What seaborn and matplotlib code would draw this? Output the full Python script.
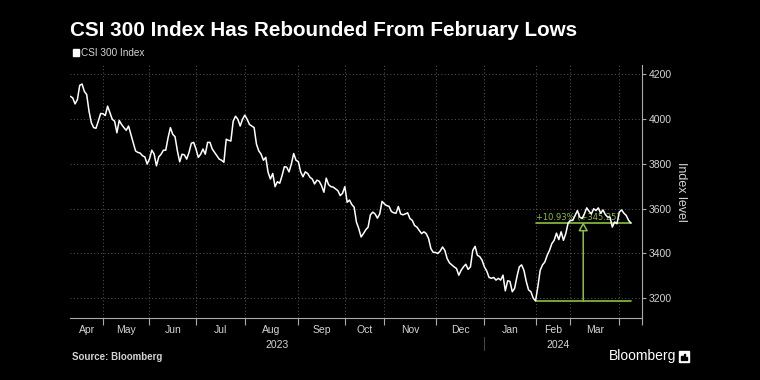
import numpy as np
import pandas as pd
import matplotlib
matplotlib.use("Agg")
import matplotlib.pyplot as plt
import matplotlib.transforms as mtransforms
from matplotlib.patches import Rectangle
import seaborn as sns

# ---------------- data ----------------
title = "CSI 300 Index Has Rebounded From February Lows"
series_name = "CSI 300 Index"
source = "Source: Bloomberg"
y_label = "Index level"
change_label = "+10.93% (+345.25)"
first_session = "2023-04-11"
exchange_holidays = [
    "2023-05-01", "2023-05-02", "2023-05-03", "2023-06-22", "2023-06-23",
    "2023-09-29", "2023-10-02", "2023-10-03", "2023-10-04", "2023-10-05",
    "2023-10-06", "2024-01-01", "2024-02-09", "2024-02-12", "2024-02-13",
    "2024-02-14", "2024-02-15", "2024-02-16", "2024-04-04", "2024-04-05",
]
close = [
    4102, 4095, 4068, 4087, 4151, 4157, 4124, 4110, 4036, 3984, 3962, 3959, 3991,
    4025, 4024, 4016, 4058, 4028, 3999, 3991, 3939, 3994, 3976, 3962, 3950, 3969,
    3932, 3896, 3858, 3851, 3848, 3836, 3831, 3799, 3822, 3861, 3844, 3791, 3831,
    3843, 3861, 3861, 3917, 3962, 3932, 3921, 3858, 3809, 3843, 3840, 3821, 3851,
    3892, 3896, 3866, 3829, 3843, 3866, 3843, 3896, 3896, 3866, 3851, 3836, 3821,
    3816, 3807, 3910, 3905, 3902, 3991, 4013, 3999, 3969, 3999, 4018, 3999, 3976,
    3969, 3962, 3888, 3858, 3843, 3816, 3829, 3762, 3732, 3757, 3698, 3720, 3713,
    3747, 3787, 3785, 3764, 3799, 3846, 3816, 3810, 3764, 3742, 3764, 3757, 3740,
    3732, 3710, 3727, 3722, 3702, 3673, 3736, 3707, 3698, 3696, 3688, 3680, 3658,
    3668, 3698,
    3628, 3638, 3618, 3606, 3539, 3510, 3473, 3488, 3505, 3517, 3572, 3584, 3576,
    3557, 3576, 3632, 3621, 3613, 3610, 3587, 3581, 3579, 3609, 3576, 3572, 3576,
    3581, 3555, 3547, 3524, 3517, 3502, 3488, 3496, 3488, 3466, 3421, 3404, 3404,
    3399, 3410,
    3428, 3413, 3376, 3357, 3348, 3339, 3332, 3302, 3324, 3339, 3351, 3328, 3339,
    3413, 3431, 3391, 3385, 3369, 3339, 3321, 3292, 3288, 3292, 3280, 3288, 3280,
    3302, 3232, 3277, 3274, 3228, 3243, 3295, 3339, 3348, 3324, 3274, 3236, 3228,
    3199,
    3187, 3251, 3324, 3348, 3361, 3391, 3413, 3443, 3458, 3490, 3461, 3496, 3458,
    3488, 3535, 3547, 3547, 3569, 3591, 3562, 3555, 3576, 3603, 3588, 3576, 3599,
    3591, 3603, 3579, 3594, 3573, 3562, 3562, 3517, 3540, 3532, 3584, 3594, 3579,
    3569, 3547, 3535,
]
y_ticks = [3200, 3400, 3600, 3800, 4000, 4200]

# ---------------- build table ----------------
bdays = pd.bdate_range(first_session, periods=len(close) + 40)
bdays = bdays[~bdays.isin(pd.to_datetime(exchange_holidays))][:len(close)]
df = pd.DataFrame({"date": bdays, "session": np.arange(len(close)), "close": close})

month_key = df["date"].dt.to_period("M")
month_starts = df.index[month_key != month_key.shift()].tolist()
month_names = [d.strftime("%b") for d in df.loc[month_starts, "date"]]

# ---------------- style ----------------
sns.set_style("dark")
plt.rcParams["font.family"] = ["Liberation Sans", "DejaVu Sans"]
BG = "black"
GRID = "#5a5a5a"
AX = "#aaaaaa"
GREEN = "#8cbf3f"
TXT = "#d4d4d4"

fig = plt.figure(figsize=(7.6, 3.8), dpi=100, facecolor=BG)
L, R, T, B = 70.4, 641.6, 65, 318
ax = fig.add_axes([L / 760, 1 - B / 380, (R - L) / 760, (B - T) / 380])
ax.set_facecolor(BG)

xmax = 245.6
ax.set_xlim(0, xmax)
ax.set_ylim(3110.5, 4242)

# grid
for s in month_starts[1:]:
    ax.axvline(s, color=GRID, lw=0.7, ls=(0, (1, 2.5)), zorder=1)
for v in y_ticks:
    ax.axhline(v, color=GRID, lw=0.7, ls=(0, (1, 2.5)), zorder=1)

sns.lineplot(data=df, x="session", y="close", ax=ax, color="white", lw=1.1,
             zorder=3, legend=False)

# annotation
i_min = int(df["close"].idxmin())
v_min = df["close"].min()
i_last = len(df) - 1
v_last = df["close"].iloc[-1]
ax.plot([i_min, i_last], [v_min, v_min], color=GREEN, lw=1.2, zorder=2)
ax.plot([i_min, i_last], [v_last, v_last], color=GREEN, lw=1.2, zorder=2)
mid = (i_min + i_last) / 2
ax.annotate("", xy=(mid, v_last + 4), xytext=(mid, v_min),
            arrowprops=dict(arrowstyle="-|>,head_length=0.5,head_width=0.28",
                            color=GREEN, fc=BG, lw=1.1, shrinkA=0, shrinkB=0),
            zorder=2)
ax.text(i_min + 0.3, v_last + 7, change_label, color=GREEN, fontsize=6,
        family="DejaVu Sans", ha="left", va="bottom", zorder=2)

# spines / ticks
for sp in ["top", "left"]:
    ax.spines[sp].set_visible(False)
for sp in ["right", "bottom"]:
    ax.spines[sp].set_visible(True)
    ax.spines[sp].set_color(AX)
    ax.spines[sp].set_linewidth(0.8)
ax.yaxis.tick_right()
ax.yaxis.set_label_position("right")
ax.set_yticks(y_ticks)
ax.set_yticklabels([str(v) for v in y_ticks])
ax.tick_params(axis="y", colors=AX, labelcolor=TXT, labelsize=7.5, length=3,
               width=0.8, pad=2, direction="out", right=True, left=False)
ax.set_ylabel(y_label, color=TXT, fontsize=9, rotation=270, labelpad=11)

ax.set_xticks(month_starts[1:] + [xmax])
ax.set_xticklabels([])
ax.tick_params(axis="x", which="major", colors=AX, length=5, width=0.8,
               direction="out", bottom=True)
mids = [(a + b) / 2 for a, b in zip(month_starts[:-1], month_starts[1:])]
ax.set_xticks(mids, minor=True)
ax.set_xticklabels(month_names[:-1], minor=True)
ax.tick_params(axis="x", which="minor", length=0, pad=5, labelsize=7.5,
               labelcolor=TXT)
ax.set_xlabel("")

trans = mtransforms.blended_transform_factory(ax.transData, ax.transAxes)
jan = [s for s, n in zip(month_starts, month_names) if n == "Jan"][0]
ax.plot([jan, jan], [-0.075, -0.128], transform=trans, color="#444444",
        lw=0.8, clip_on=False)
ax.text(jan / 2, -0.105, str(df.loc[0, "date"].year), transform=trans,
        ha="center", va="center", color=TXT, fontsize=7.5)
ax.text((jan + i_last) / 2, -0.105, str(df.loc[i_last, "date"].year),
        transform=trans, ha="center", va="center", color=TXT, fontsize=7.5)

# titles, legend, footer
fig.text(70 / 760, 1 - 30 / 380, title, color="white", fontsize=14.9,
         fontweight="bold", ha="left", va="center")
fig.patches.append(Rectangle((73 / 760, 1 - 55.5 / 380), 6 / 760, 6 / 380,
                             transform=fig.transFigure, color="white"))
fig.text(81 / 760, 1 - 52.5 / 380, series_name, color=TXT, fontsize=7.2,
         ha="left", va="center")
fig.text(72 / 760, 1 - 357 / 380, source, color=TXT, fontsize=7,
         fontweight="bold", ha="left", va="center")
fig.text(676 / 760, 1 - 356 / 380, "Bloomberg", color="white", fontsize=10,
         ha="right", va="center")
fig.patches.append(Rectangle((679 / 760, 1 - 362 / 380), 10 / 760, 11 / 380,
                             transform=fig.transFigure, color="white"))
for bx, bh in [(681.2, 4), (683.6, 6), (686, 3)]:
    fig.patches.append(Rectangle((bx / 760, 1 - 359.5 / 380), 1.4 / 760, bh / 380,
                                 transform=fig.transFigure, color="black"))

fig.savefig("out.png", dpi=100, facecolor=BG)
